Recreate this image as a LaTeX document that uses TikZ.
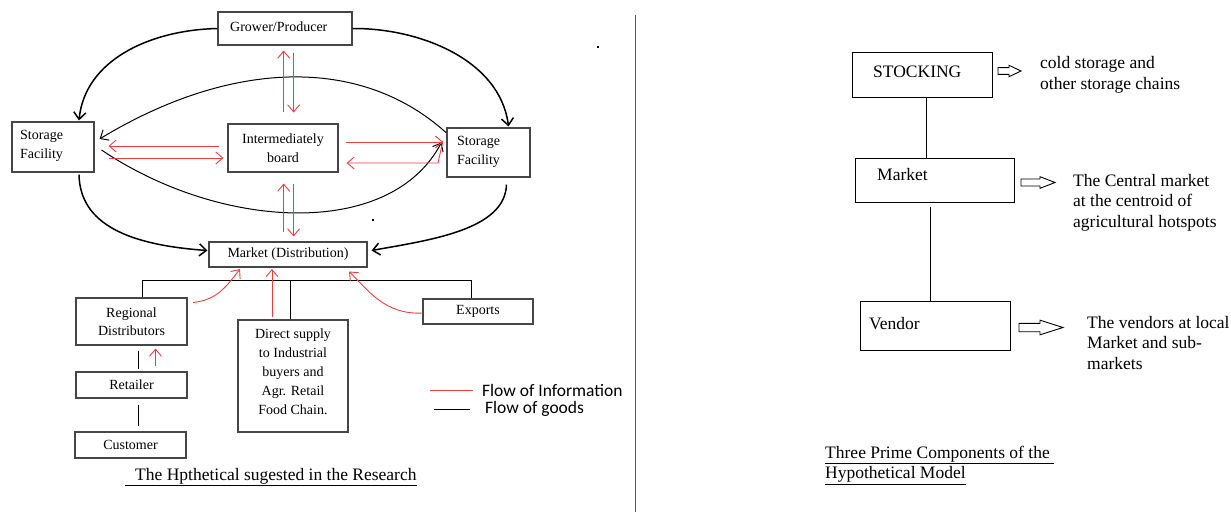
\documentclass[tikz,border=0pt]{standalone}
\usepackage{fontspec}
\setmainfont{Liberation Serif}
\newfontfamily\legendfont{Carlito}
\usetikzlibrary{arrows.meta,calc}
\definecolor{infored}{RGB}{236,62,62}
\definecolor{boxgray}{RGB}{70,70,70}
\newcommand\hollowarr[6]{\draw[line width=0.9pt] (#1,#4-#5) -- (#2,#4-#5) -- (#2,#4-#6) -- (#3,#4) -- (#2,#4+#6) -- (#2,#4+#5) -- (#1,#4+#5) -- cycle;}
\begin{document}
\begin{tikzpicture}[x=1pt,y=-1pt,
  lbox/.style={draw=boxgray, line width=1.1pt, rectangle, inner sep=0pt, align=center, font=\fontsize{14}{19}\selectfont},
  rbox/.style={draw=black, line width=0.9pt, rectangle, inner sep=0pt},
  ltext/.style={inner sep=0pt, align=left, font=\fontsize{14}{19}\selectfont},
  rtext/.style={inner sep=0pt, align=left, font=\fontsize{17.5}{20.5}\selectfont},
  legtext/.style={inner sep=0pt, anchor=west, font=\legendfont\fontsize{17.5}{20}\selectfont},
  goods/.style={line width=1.5pt, -{Straight Barb[length=7pt,width=12pt]}},
  goodsthin/.style={line width=1pt, -{Straight Barb[length=7pt,width=12pt]}},
  info/.style={draw=infored, line width=0.9pt, -{Straight Barb[length=7pt,width=12pt]}},
  plain/.style={line width=1pt}]
\useasboundingbox (0,0) rectangle (1231,512);

% ---------- left diagram boxes ----------
\node[lbox, minimum width=134pt, minimum height=33pt] (grower) at (285,28.5) {};
\node[ltext, anchor=west] (growert) at (230,27) {Grower/Producer};
\node[lbox, minimum width=82pt, minimum height=50pt] (lsf) at (53,147) {};
\node[ltext, anchor=west] (lsft) at (20,146) {Storage\\Facility};
\node[lbox, minimum width=110pt, minimum height=48pt] (ib) at (283,148) {Intermediately\\board};
\node[lbox, minimum width=83pt, minimum height=49pt] (rsf) at (488.5,152.5) {};
\node[ltext, anchor=west] (rsft) at (457,152) {Storage\\Facility};
\node[lbox, minimum width=158pt, minimum height=25pt] (mkt) at (288,254.5) {Market (Distribution)};
\node[lbox, minimum width=111pt, minimum height=47pt, font=\fontsize{14}{18}\selectfont] (rd) at (131.5,321.5) {Regional\\Distributors};
\node[lbox, minimum width=111pt, minimum height=26pt] (ret) at (131.5,385) {Retailer};
\node[lbox, minimum width=111pt, minimum height=26pt] (cus) at (130.5,445) {Customer};
\node[lbox, minimum width=110pt, minimum height=112pt] (ds) at (293,376) {};
\node[ltext, align=center] (dst) at (293,372) {Direct supply\\to Industrial\\buyers and\\Agr. Retail\\Food Chain.};
\node[lbox, minimum width=110pt, minimum height=25pt] (exp) at (478,311.5) {Exports};

% ---------- flow of goods (black) ----------
\draw[goods] (grower.west) .. controls (150,30) and (85,60) .. ($(lsf.north)+(26,-1)$);
\draw[goods] (grower.east) .. controls (420,28) and (500,60) .. ($(rsf.north)+(20,-1)$);
\draw[goodsthin] ($(rsf.west)+(-0.5,-20)$) .. controls (360,55) and (230,60) .. ($(lsf.east)+(5,-8)$);
\draw[goodsthin] ($(lsf.east)+(7,3)$) .. controls (220,230) and (390,240) .. ($(rsf.west)+(-5,-10)$);
\draw[goods] ($(lsf.south)+(26,2)$) .. controls (80,225) and (130,245) .. ($(mkt.west)+(-1,-4)$);
\draw[goods] ($(rsf.south)+(18,7)$) .. controls (505,230) and (430,240) .. ($(mkt.east)+(4,-4)$);

\draw[plain] ($(rd.north)+(10.5,0)$) |- ($(exp.north)+(-7,-18)$) -- ($(exp.north)+(-7,0)$);
\draw[plain] ($(ds.north)+(-3,0)$) -- ($(ds.north)+(-3,-39)$);
\draw[plain] ($(rd.south)+(6.5,5)$) -- ($(ret.north)+(6.5,-2)$);
\draw[plain] ($(ret.south)+(6.5,6)$) -- ($(cus.north)+(7.5,-5)$);

% ---------- flow of information (red) ----------
\draw[info] ($(ib.north)+(0.7,-11)$) -- ($(grower.south)+(-1.3,5)$);
\draw[info] ($(grower.south)+(8.6,7)$) -- ($(ib.north)+(10.6,-11)$);
\draw[info] ($(mkt.north)+(-4.3,-9)$) -- ($(ib.south)+(0.7,11)$);
\draw[info] ($(ib.south)+(10.6,11)$) -- ($(mkt.north)+(5.6,-5)$);
\draw[info] ($(ib.west)+(-8,-2)$) -- ($(lsf.east)+(14,-1)$);
\draw[info] ($(lsf.east)+(14,11)$) -- ($(ib.west)+(-4,10)$);
\draw[info] ($(ib.east)+(7,-6)$) -- ($(rsf.west)+(-3.4,-10.5)$);
\draw[info] ($(rsf.west)+(-3.4,-12)$) -- ($(rsf.west)+(-8.5,10.5)$) -- ($(ib.east)+(8,15)$);
\draw[info] ($(rd.east)+(5.5,-19)$) .. controls (215,300) and (224,290) .. ($(mkt.south)+(-48,1.5)$);
\draw[info] ($(ds.north)+(-21,-2)$) -- ($(mkt.south)+(-16,1.5)$);
\draw[info] ($(exp.west)+(0,1.5)$) .. controls (385,315) and (368,290) .. ($(mkt.south)+(61,4)$);
\draw[info] ($(ret.north)+(24,-5)$) -- ($(rd.south)+(24,3)$);

% stray dots
\fill (597,46) rectangle (599,48);
\fill (372,219) rectangle (374,221);

% ---------- legend ----------
\draw[infored, line width=1pt] (430,390) -- (473,390);
\draw[black, line width=1pt] (434,409) -- (470,409);
\node[legtext] (leg1) at (482,390) {Flow of Information};
\node[legtext] (leg2) at (485,409) {Flow of goods};

% caption left
\node[rtext, anchor=west] (capl) at (125,477) {\underline{\hspace{10pt}The Hpthetical sugested in the Research}};

% divider
\draw[black!65, line width=1pt] (635,15) -- (635,512);

% ---------- right diagram ----------
\node[rbox, minimum width=140pt, minimum height=45pt] (stk) at (922,74.5) {};
\node[rtext, anchor=west] (stkt) at (873,72) {STOCKING};
\node[rbox, minimum width=159pt, minimum height=44pt] (rmk) at (934.5,180) {};
\node[rtext, anchor=west] (rmkt) at (877,175) {Market};
\node[rbox, minimum width=150pt, minimum height=49pt] (ven) at (935,325.5) {};
\node[rtext, anchor=west] (vent) at (869,324) {Vendor};

\draw[plain] ($(stk.south)+(4.7,0)$) -- ($(rmk.north)+(-7.8,0)$);
\draw[plain] ($(rmk.south)+(-4.5,4.5)$) -- ($(ven.north)+(-5,0)$);

\hollowarr{998}{1009}{1021}{71}{3.4}{5.7}
\hollowarr{1021}{1040}{1055}{182.5}{3.5}{5.8}
\hollowarr{1019}{1040}{1063}{327.5}{4.2}{7.3}

\node[rtext, anchor=west] (t1) at (1040,75) {cold storage and\\other storage chains};
\node[rtext, anchor=west] (t2) at (1073,202.5) {The Central market\\at the centroid of\\agricultural hotspots};
\node[rtext, anchor=west] (t3) at (1087,343) {The vendors at local\\Market and sub-\\markets};

\node[rtext, anchor=west] (capr) at (825,465) {\underline{Three Prime Components of the\ }\\\underline{Hypothetical Model}};
\end{tikzpicture}
\end{document}
